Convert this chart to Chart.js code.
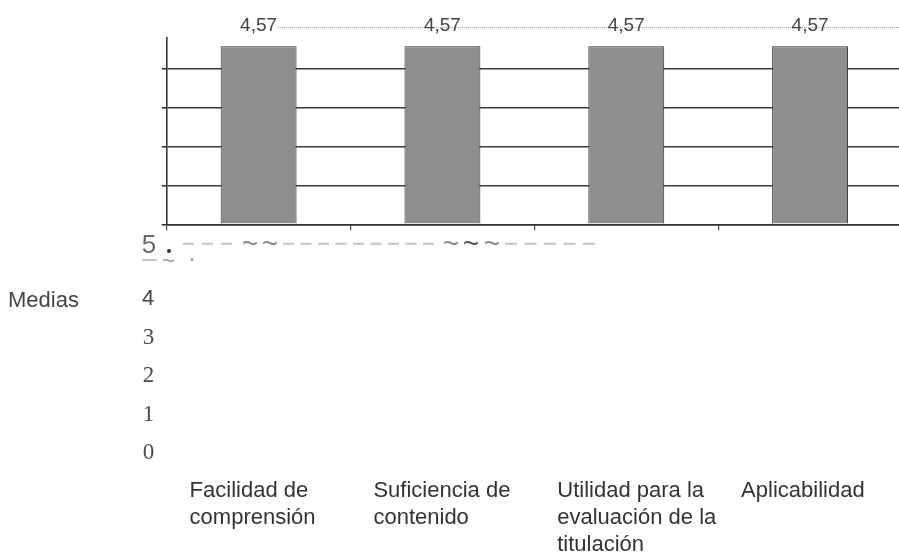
<!DOCTYPE html>
<html><head><meta charset="utf-8">
<script src="https://cdn.jsdelivr.net/npm/chart.js@4.4.1/dist/chart.umd.min.js"></script>
<style>
html,body{margin:0;padding:0;background:#fff;overflow:hidden;width:899px;height:558px;}
#wrap{position:relative;width:905px;height:558px;}
#main{position:absolute;left:0;top:0;}
#lower{position:absolute;left:0;top:230px;}
</style></head><body>
<div id="wrap">
<canvas id="main" width="905" height="558"></canvas>
<canvas id="lower" width="620" height="240"></canvas>
</div>
<script>
// ---- data ----
const categories = [
  ['Facilidad de', 'comprensión'],
  ['Suficiencia de', 'contenido'],
  ['Utilidad para la', 'evaluación de la', 'titulación'],
  ['Aplicabilidad']
];
const medias = [4.57, 4.57, 4.57, 4.57];
const yTicks = [0, 1, 2, 3, 4];
const axisTitle = 'Medias';
const strayTick = '5';

const SANS = "'Liberation Sans', Arial, sans-serif";
const SERIF = "'Liberation Serif', 'Times New Roman', serif";
const fmt = v => v.toFixed(2).replace('.', ',');

const valueLabels = {
  id: 'valueLabels',
  afterDatasetsDraw(chart) {
    const ctx = chart.ctx;
    const meta = chart.getDatasetMeta(0);
    ctx.save();
    ctx.strokeStyle = '#a8a8a8'; ctx.lineWidth = 1; ctx.setLineDash([1, 1]);
    ctx.beginPath(); ctx.moveTo(278, 27.5); ctx.lineTo(chart.width, 27.5); ctx.stroke();
    ctx.setLineDash([]);
    ctx.font = '19px ' + SANS; ctx.fillStyle = '#444';
    ctx.textAlign = 'center'; ctx.textBaseline = 'alphabetic';
    meta.data.forEach((bar, i) => ctx.fillText(fmt(medias[i]), bar.x, bar.y - 14.7));
    ctx.restore();
  }
};

new Chart(document.getElementById('main'), {
  type: 'bar',
  data: {
    labels: categories,
    datasets: [{
      data: medias,
      backgroundColor: '#8e8e8e',
      borderColor: '#333',
      borderWidth: 1,
      barPercentage: 0.413,
      categoryPercentage: 1
    }]
  },
  options: {
    responsive: false, animation: false, devicePixelRatio: 1,
    layout: { padding: { left: 161.7, top: 38, right: 3, bottom: 0 } },
    plugins: { legend: { display: false }, tooltip: { enabled: false }, title: { display: false } },
    scales: {
      x: {
        grid: { display: true, drawOnChartArea: false, drawTicks: true, tickLength: 6, color: '#444', lineWidth: 1.2, offset: true },
        border: { display: true, color: '#333', width: 1.6 },
        ticks: {
          font: { family: SANS, size: 22, lineHeight: '27px' }, color: '#333',
          align: 'start', labelOffset: -69, padding: 247,
          maxRotation: 0, minRotation: 0, autoSkip: false
        },
        afterFit(s) { s.height = 558 - 224.3; s.paddingLeft = 0; s.paddingRight = 0; }
      },
      y: {
        min: 0, max: 4.78,
        afterBuildTicks(s) { s.ticks = yTicks.map(v => ({ value: v })); },
        grid: { color: '#3a3a3a', lineWidth: 1.6, tickLength: 5, drawTicks: true },
        border: { display: true, color: '#333', width: 1.6 },
        ticks: { display: false }
      }
    }
  },
  plugins: [valueLabels]
});

const lowerDeco = {
  id: 'lowerDeco',
  afterDraw(chart) {
    const ctx = chart.ctx; const oy = 230;
    ctx.save();
    ctx.textAlign = 'left'; ctx.textBaseline = 'alphabetic';
    ctx.font = '22px ' + SANS; ctx.fillStyle = '#444';
    ctx.fillText(axisTitle, 8, 306.7 - oy);
    ctx.font = '26px ' + SANS; ctx.fillStyle = '#6a6a6a';
    ctx.fillText(strayTick, 141.7, 253 - oy);
    // scan dots
    ctx.fillStyle = '#333';
    ctx.beginPath(); ctx.arc(169, 251 - oy, 2, 0, Math.PI * 2); ctx.fill();
    ctx.fillStyle = '#888';
    ctx.beginPath(); ctx.arc(192, 259.5 - oy, 1.3, 0, Math.PI * 2); ctx.fill();
    // dashed scan row
    ctx.strokeStyle = '#c4c4c4'; ctx.lineWidth = 2;
    const run = (a, b, pat, y) => { ctx.setLineDash(pat); ctx.beginPath(); ctx.moveTo(a, y - oy); ctx.lineTo(b, y - oy); ctx.stroke(); };
    run(183, 240, [11, 8], 243.7);
    run(283, 434, [11, 6.5], 243.7);
    run(505, 598, [12, 7.5], 243.7);
    run(142, 157, [], 260);
    ctx.setLineDash([]);
    ctx.font = '28px ' + SANS; ctx.fillStyle = '#8a8a8a';
    ctx.textAlign = 'center'; ctx.textBaseline = 'middle';
    [250, 270, 451, 492].forEach(x => ctx.fillText('~', x, 245 - oy));
    ctx.fillStyle = '#555';
    ctx.fillText('~', 471, 245 - oy);
    ctx.font = '22px ' + SANS; ctx.fillStyle = '#999';
    ctx.fillText('~', 168.5, 262 - oy);
    ctx.restore();
  }
};

new Chart(document.getElementById('lower'), {
  type: 'line',
  data: { labels: [], datasets: [] },
  options: {
    responsive: false, animation: false, devicePixelRatio: 1,
    layout: { padding: { left: 142, top: 69, bottom: 17, right: 0 } },
    plugins: { legend: { display: false }, tooltip: { enabled: false } },
    scales: {
      x: { display: false },
      y: {
        min: 0, max: 4,
        afterBuildTicks(s) { s.ticks = yTicks.map(v => ({ value: v })); },
        grid: { display: false, drawTicks: false },
        border: { display: false },
        ticks: {
          padding: 0,
          font: c => (c.tick && c.tick.value === 4) ? { family: SANS, size: 22 } : { family: SERIF, size: 23 },
          color: c => (c.tick && c.tick.value === 4) ? '#444' : '#4a4a4a'
        }
      }
    }
  },
  plugins: [lowerDeco]
});
</script>
</body></html>
